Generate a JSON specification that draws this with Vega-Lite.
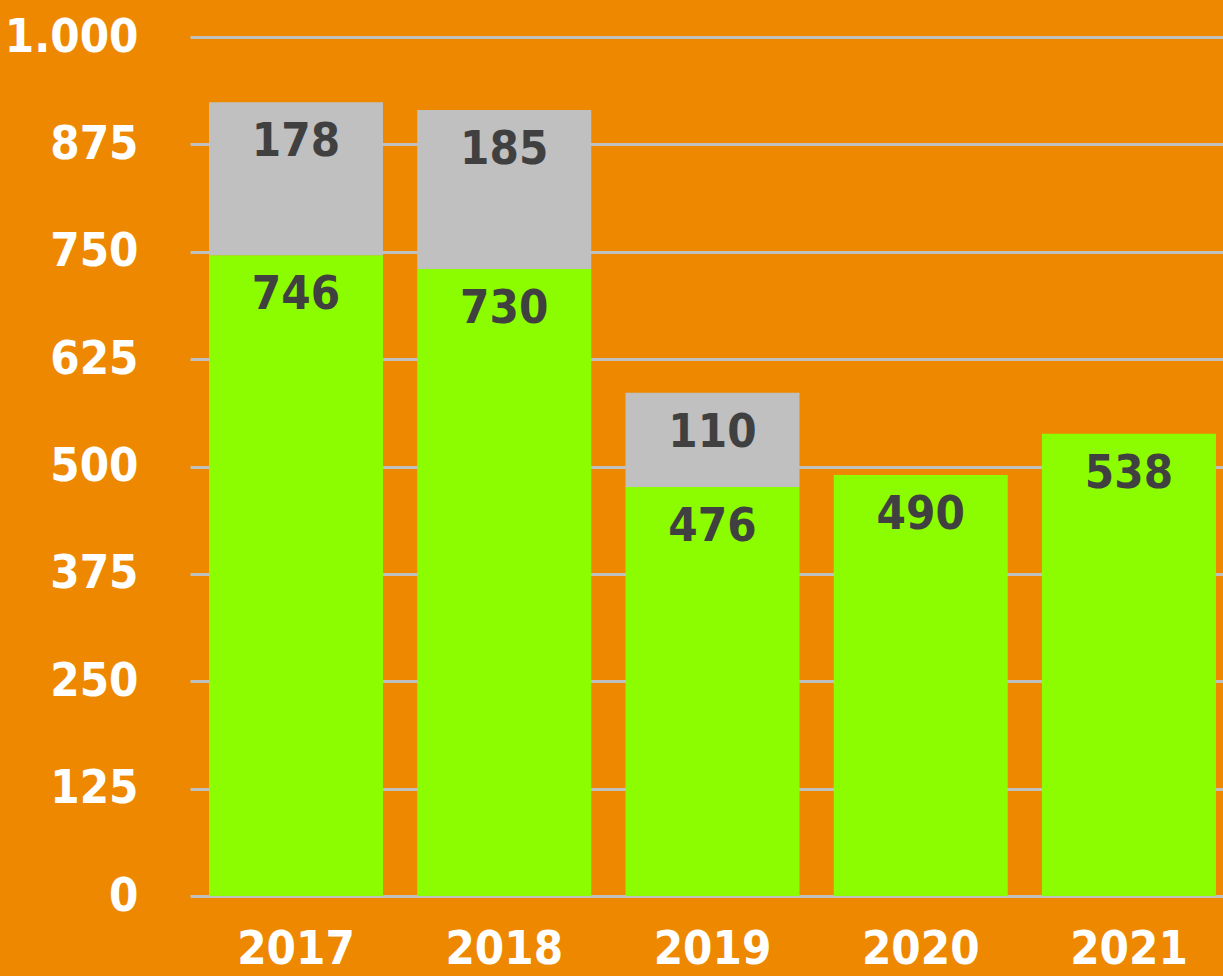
{
  "$schema": "https://vega.github.io/schema/vega-lite/v6.json",
  "width": 1033,
  "height": 859,
  "autosize": {"type": "none"},
  "padding": {"left": 190, "top": 37, "right": 0, "bottom": 80},
  "background": "#EE8800",
  "config": {"view": {"stroke": null}},
  "data": {
    "values": [
      {"year": "2017", "series": "Serie 1", "value": 746},
      {"year": "2017", "series": "Serie 2", "value": 178},
      {"year": "2018", "series": "Serie 1", "value": 730},
      {"year": "2018", "series": "Serie 2", "value": 185},
      {"year": "2019", "series": "Serie 1", "value": 476},
      {"year": "2019", "series": "Serie 2", "value": 110},
      {"year": "2020", "series": "Serie 1", "value": 490},
      {"year": "2021", "series": "Serie 1", "value": 538}
    ]
  },
  "transform": [
    {"stack": "value", "groupby": ["year"], "sort": [{"field": "series", "order": "ascending"}], "as": ["y0", "y1"]}
  ],
  "encoding": {
    "x": {
      "field": "year",
      "type": "ordinal",
      "scale": {"paddingInner": 0.1645, "paddingOuter": 0.0625, "align": 0.73},
      "axis": {
        "title": null,
        "labelAngle": 0,
        "ticks": false,
        "domain": false,
        "grid": false,
        "labelFont": "DejaVu Sans Condensed, DejaVu Sans, sans-serif",
        "labelFontWeight": "bold",
        "labelFontSize": 47,
        "labelColor": "#FFFFFF",
        "labelBaseline": "alphabetic",
        "labelPadding": 67
      }
    }
  },
  "layer": [
    {
      "mark": {"type": "bar"},
      "encoding": {
        "y": {
          "field": "y0",
          "type": "quantitative",
          "scale": {"domain": [0, 1000], "nice": false},
          "axis": {
            "title": null,
            "values": [0, 125, 250, 375, 500, 625, 750, 875, 1000],
            "labelExpr": "replace(format(datum.value, ','), ',', '.')",
            "ticks": false,
            "domain": false,
            "grid": true,
            "gridColor": "#C0C0C0",
            "gridWidth": 3,
            "gridOpacity": 1,
            "labelFont": "DejaVu Sans Condensed, DejaVu Sans, sans-serif",
            "labelFontWeight": "bold",
            "labelFontSize": 47,
            "labelColor": "#FFFFFF",
            "labelBaseline": "middle",
            "labelPadding": 52
          }
        },
        "y2": {"field": "y1"},
        "color": {
          "field": "series",
          "type": "nominal",
          "scale": {"domain": ["Serie 1", "Serie 2"], "range": ["#8CFC00", "#C0C0C0"]},
          "legend": null
        }
      }
    },
    {
      "mark": {
        "type": "text",
        "baseline": "alphabetic",
        "dy": 54,
        "font": "DejaVu Sans Condensed, DejaVu Sans, sans-serif",
        "fontWeight": "bold",
        "fontSize": 47,
        "color": "#404040"
      },
      "encoding": {
        "y": {"field": "y1", "type": "quantitative"},
        "text": {"field": "value", "type": "quantitative"}
      }
    }
  ]
}
